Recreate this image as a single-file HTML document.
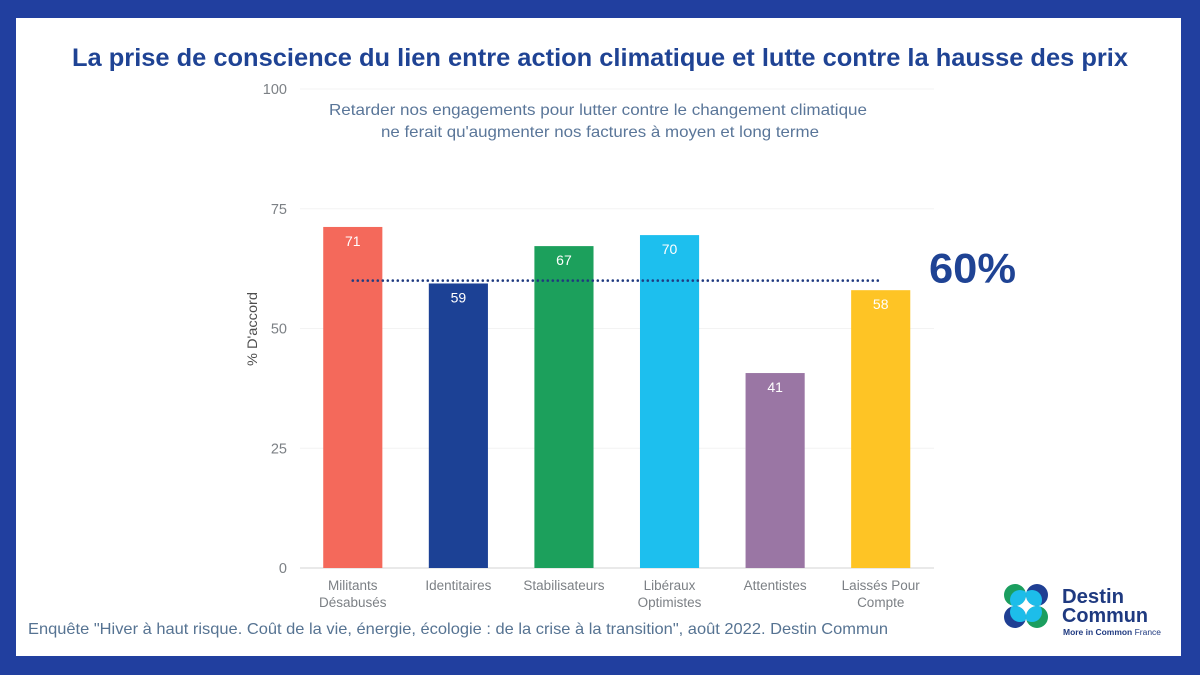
<!DOCTYPE html>
<html lang="fr">
<head>
<meta charset="utf-8">
<title>La prise de conscience</title>
<style>
html,body{margin:0;padding:0;background:#213f9f;width:1200px;height:675px;overflow:hidden}
svg{display:block;font-family:"Liberation Sans",sans-serif}
</style>
</head>
<body>
<svg id="chart" xmlns="http://www.w3.org/2000/svg" width="1200" height="675" viewBox="0 0 1200 675">
  <defs>
    <clipPath id="clip-tl"><circle cx="1015" cy="595" r="11"/></clipPath>
    <clipPath id="clip-tr"><circle cx="1037" cy="595" r="11"/></clipPath>
    <clipPath id="clip-bl"><circle cx="1015" cy="617" r="11"/></clipPath>
    <clipPath id="clip-br"><circle cx="1037" cy="617" r="11"/></clipPath>
  </defs>
  <rect x="0" y="0" width="1200" height="675" fill="#213f9f"/>
  <rect x="16" y="18" width="1165" height="638" fill="#ffffff"/>
  <text x="600" y="66" text-anchor="middle" font-size="25" font-weight="700" fill="#1f4394" textLength="1056" lengthAdjust="spacingAndGlyphs">La prise de conscience du lien entre action climatique et lutte contre la hausse des prix</text>
  <g id="grid"></g>
  <g id="bars"></g>
  <g id="xlabels"></g>
  <g id="reference"></g>
  <text x="598" y="115" text-anchor="middle" font-size="16" fill="#5a7699" textLength="538" lengthAdjust="spacingAndGlyphs">Retarder nos engagements pour lutter contre le changement climatique</text>
  <text x="600" y="137" text-anchor="middle" font-size="16" fill="#5a7699" textLength="438" lengthAdjust="spacingAndGlyphs">ne ferait qu'augmenter nos factures à moyen et long terme</text>
  <text transform="translate(257 329) rotate(-90)" text-anchor="middle" font-size="14" fill="#4d4d4d" textLength="74" lengthAdjust="spacingAndGlyphs">% D'accord</text>
  <text x="28" y="634" font-size="16" fill="#567392" textLength="860" lengthAdjust="spacingAndGlyphs">Enquête "Hiver à haut risque. Coût de la vie, énergie, écologie : de la crise à la transition", août 2022. Destin Commun</text>
  <g>
    <g>
      <circle cx="1015" cy="595" r="11" fill="#1b9e5f"/>
      <circle cx="1037" cy="595" r="11" fill="#1f3f93"/>
      <circle cx="1015" cy="617" r="11" fill="#1f3f93"/>
      <circle cx="1037" cy="617" r="11" fill="#1b9e5f"/>
      <circle cx="1020" cy="600" r="10" fill="#1dbdea" clip-path="url(#clip-tl)"/>
      <circle cx="1032" cy="600" r="10" fill="#1dbdea" clip-path="url(#clip-tr)"/>
      <circle cx="1020" cy="612" r="10" fill="#1dbdea" clip-path="url(#clip-bl)"/>
      <circle cx="1032" cy="612" r="10" fill="#1dbdea" clip-path="url(#clip-br)"/>
    </g>
    <text x="1062" y="603" font-size="20" font-weight="700" fill="#1f3a80" textLength="62" lengthAdjust="spacingAndGlyphs">Destin</text>
    <text x="1062" y="622" font-size="20" font-weight="700" fill="#1f3a80" textLength="86" lengthAdjust="spacingAndGlyphs">Commun</text>
    <text x="1063" y="635" font-size="8" fill="#1f3a80" textLength="98" lengthAdjust="spacingAndGlyphs"><tspan font-weight="700">More in Common</tspan> France</text>
  </g>
</svg>
<script>
const categories = [["Militants","Désabusés"],["Identitaires"],["Stabilisateurs"],["Libéraux","Optimistes"],["Attentistes"],["Laissés Pour","Compte"]];
const seriesValues = [71.2,59.4,67.2,69.5,40.7,58];
const seriesColors = ["#f4695b","#1c4195","#1ca05c","#1dbfee","#9a76a4","#fec425"];
const yTicks = [0,25,50,75,100];
const referenceValue = [60];
const referenceLabel = ["60%"];

const NS = "http://www.w3.org/2000/svg";
const plotLeft = 300, plotRight = 934, plotBottom = 568, plotTop = 89, yMax = 100;
const yScale = v => plotBottom - (v / yMax) * (plotBottom - plotTop);
const band = (plotRight - plotLeft - 0.5) / categories.length;
const xCenter = i => plotLeft + band * (i + 0.5);
const barWidth = band * 0.56;

function make(tag, attrs, parent, txt) {
  const el = document.createElementNS(NS, tag);
  for (const k in attrs) el.setAttribute(k, attrs[k]);
  if (txt !== undefined) el.textContent = txt;
  parent.appendChild(el);
  return el;
}

const gridG = document.getElementById("grid");
yTicks.forEach(t => {
  const line = make("line", {x1: plotLeft, x2: plotRight, y1: yScale(t), y2: yScale(t), stroke: t === 0 ? "#e2e2e2" : "#f3f3f3", "stroke-width": t === 0 ? 1.5 : 1}, gridG);
  
  
  const label = make("text", {x: 287, y: yScale(t) + 5, "text-anchor": "end", "font-size": 14.5, fill: "#7c8085"}, gridG, String(t));
  
  
});

const barsG = document.getElementById("bars");
seriesValues.forEach((v, i) => {
  const bar = make("rect", {x: xCenter(i) - barWidth / 2, y: yScale(v), width: barWidth, height: plotBottom - yScale(v), fill: seriesColors[i]}, barsG);
  
  
  const value = make("text", {x: xCenter(i), y: yScale(v) + 19, "text-anchor": "middle", "font-size": 14, fill: "#ffffff"}, barsG, String(Math.round(v)));
  
  
});

const xG = document.getElementById("xlabels");
categories.forEach((lines, i) => {
  lines.forEach((s, j) => {
    const label = make("text", {x: xCenter(i), y: 590 + j * 17, "text-anchor": "middle", "font-size": 13.5, fill: "#7c8085"}, xG, s);
    
    
  });
});

const refG = document.getElementById("reference");
const refLine = make("line", {x1: xCenter(0), x2: xCenter(categories.length - 1), y1: yScale(referenceValue[0]), y2: yScale(referenceValue[0]), stroke: "#1f3a80", "stroke-width": 2.6, "stroke-linecap": "round", "stroke-dasharray": "0 5", fill: "none"}, refG);


const refText = make("text", {x: 929, y: yScale(referenceValue[0]) + 2, "font-size": 42, "font-weight": 700, fill: "#1f4394", textLength: 87, lengthAdjust: "spacingAndGlyphs"}, refG, referenceLabel[0]);


</script>
</body>
</html>
